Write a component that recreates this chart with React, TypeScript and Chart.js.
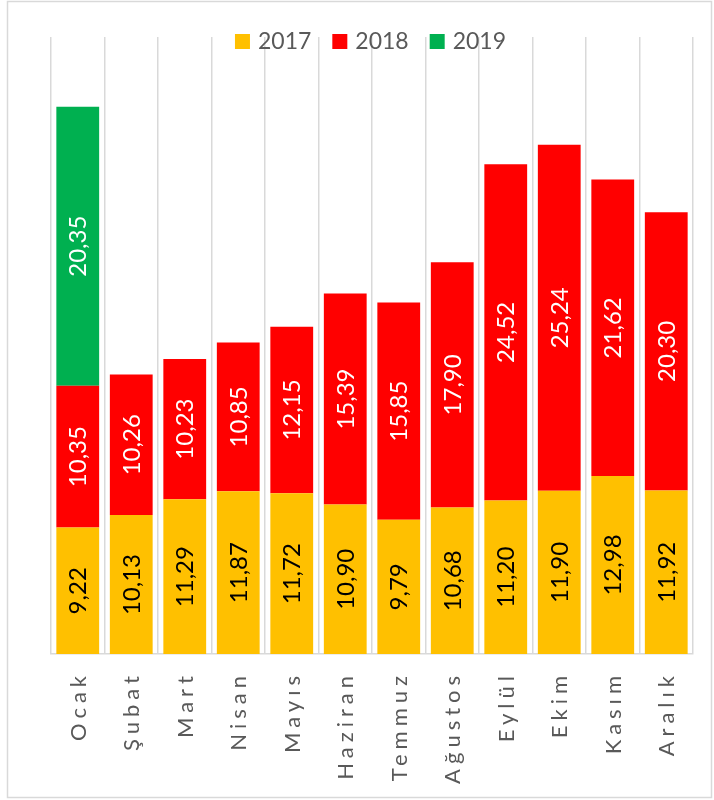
import React, { useEffect, useRef } from "react";
import { Chart, registerables } from "chart.js";

Chart.register(...registerables);

const months = ["Ocak", "Şubat", "Mart", "Nisan", "Mayıs", "Haziran", "Temmuz", "Ağustos", "Eylül", "Ekim", "Kasım", "Aralık"];
const values2017 = [9.22, 10.13, 11.29, 11.87, 11.72, 10.9, 9.79, 10.68, 11.2, 11.9, 12.98, 11.92];
const values2018 = [10.35, 10.26, 10.23, 10.85, 12.15, 15.39, 15.85, 17.9, 24.52, 25.24, 21.62, 20.3];
const values2019 = [20.35, null, null, null, null, null, null, null, null, null, null, null];
const seriesNames = ["2017", "2018", "2019"];
const seriesColors = ["#FFC000", "#FF0000", "#00B050"];
const labelColors = ["#000000", "#FFFFFF", "#FFFFFF"];

const FONT = "Lato, 'Open Sans', sans-serif";

const fmt = (v: number) => v.toFixed(2).replace(".", ",");

const customPlugin = {
  id: "customDraw",
  afterDatasetsDraw(chart: any) {
    const ctx = chart.ctx as CanvasRenderingContext2D;
    // data labels
    chart.data.datasets.forEach((ds: any, di: number) => {
      const meta = chart.getDatasetMeta(di);
      meta.data.forEach((bar: any, i: number) => {
        const v = ds.data[i];
        if (v == null) return;
        const { x, y, base } = bar.getProps(["x", "y", "base"], true);
        const cy = (y + base) / 2;
        const size = 24;
        ctx.save();
        ctx.font = `${size}px ${FONT}`;
        ctx.fillStyle = labelColors[di];
        ctx.textAlign = "center";
        ctx.textBaseline = "alphabetic";
        ctx.translate(x, cy);
        ctx.rotate(-Math.PI / 2);
        ctx.fillText(fmt(v), 0, size * 0.36);
        ctx.restore();
      });
    });
  },
  afterDraw(chart: any) {
    const ctx = chart.ctx as CanvasRenderingContext2D;
    const xs = chart.scales.x;
    // category labels
    const size = 22;
    const spacing = 5;
    months.forEach((m, i) => {
      const x = xs.getPixelForValue(i);
      ctx.save();
      ctx.font = `${size}px ${FONT}`;
      (ctx as any).letterSpacing = `${spacing}px`;
      ctx.fillStyle = "#595959";
      ctx.textAlign = "right";
      ctx.textBaseline = "alphabetic";
      ctx.translate(x, chart.chartArea.bottom + 22);
      ctx.rotate(-Math.PI / 2);
      ctx.fillText(m, spacing, size * 0.36);
      ctx.restore();
    });
    // legend
    const lsize = 23;
    ctx.save();
    ctx.font = `${lsize}px ${FONT}`;
    ctx.textBaseline = "alphabetic";
    ctx.textAlign = "left";
    const box = 15;
    const gapIn = 8;
    const gapOut = 21;
    const widths = seriesNames.map((n) => ctx.measureText(n).width);
    const total = widths.reduce((a, w) => a + box + gapIn + w, 0) + gapOut * (seriesNames.length - 1);
    let lx = 370.5 - total / 2;
    seriesNames.forEach((n, i) => {
      ctx.fillStyle = seriesColors[i];
      ctx.fillRect(lx, 34, box, box);
      ctx.fillStyle = "#595959";
      ctx.fillText(n, lx + box + gapIn, 49);
      lx += box + gapIn + widths[i] + gapOut;
    });
    ctx.restore();
    // frame
    ctx.save();
    ctx.strokeStyle = "#D9D9D9";
    ctx.lineWidth = 1.5;
    ctx.strokeRect(7.5, 1.5, 704, 796);
    ctx.restore();
  },
};

export default function App() {
  const ref = useRef<HTMLCanvasElement | null>(null);
  useEffect(() => {
    if (!ref.current) return;
    const chart = new Chart(ref.current, {
      type: "bar",
      data: {
        labels: months,
        datasets: [
          { label: seriesNames[0], data: values2017, backgroundColor: seriesColors[0], barPercentage: 0.8, categoryPercentage: 1 },
          { label: seriesNames[1], data: values2018, backgroundColor: seriesColors[1], barPercentage: 0.8, categoryPercentage: 1 },
          { label: seriesNames[2], data: values2019 as any, backgroundColor: seriesColors[2], barPercentage: 0.8, categoryPercentage: 1 },
        ],
      },
      options: {
        animation: false,
        responsive: false,
        devicePixelRatio: 1,
        layout: { padding: { left: 51, right: 21, top: 37, bottom: 146 } },
        plugins: { legend: { display: false }, tooltip: { enabled: false } },
        scales: {
          x: {
            stacked: true,
            offset: true,
            ticks: { display: false },
            grid: { display: true, offset: true, color: "#D9D9D9", lineWidth: 1.5, drawTicks: false },
            border: { display: true, color: "#D9D9D9", width: 1.5 },
            afterFit: (s: any) => {
              s.height = 0;
            },
          },
          y: {
            stacked: true,
            display: false,
            min: 0,
            max: 45,
          },
        },
      },
      plugins: [customPlugin],
    });
    return () => chart.destroy();
  }, []);
  return (
    <div style={{ position: "fixed", left: 0, top: 0, width: 714, height: 800, background: "#fff" }}>
      <canvas ref={ref} width={714} height={800} style={{ display: "block" }} />
    </div>
  );
}
